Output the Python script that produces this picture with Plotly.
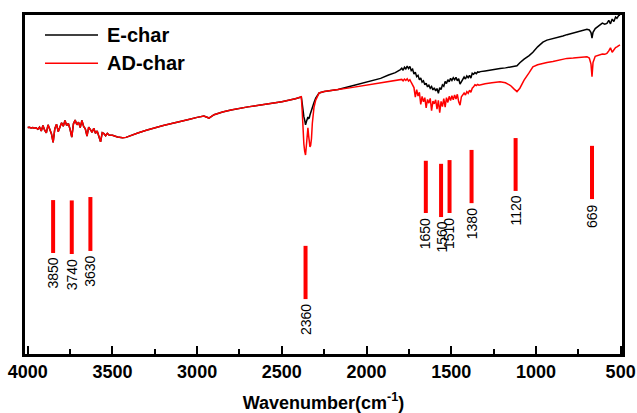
import plotly.graph_objects as go

# ---------------- data ----------------
# O-H / high wavenumber region: both spectra coincide here
wn_high = [4000, 3990, 3980, 3970, 3960, 3950, 3940, 3930, 3920, 3910,
           3900, 3890, 3880, 3870, 3860, 3850, 3840, 3830, 3820, 3810,
           3800, 3790, 3780, 3770, 3760, 3750, 3740, 3730, 3720, 3710,
           3700, 3690, 3680, 3670, 3660, 3650, 3640, 3630, 3620, 3610,
           3600, 3590, 3580, 3570, 3560, 3550, 3540, 3530, 3520,
           3500, 3470, 3440, 3420, 3400, 3350, 3300, 3250, 3200, 3150,
           3100, 3050, 3000, 2960, 2930, 2900, 2850, 2800, 2700, 2600,
           2500, 2420]
t_high = [66.8, 66.9, 66.7, 66.8, 66.6, 66.7, 66.3, 66.9, 65.8, 67.4,
          66.0, 65.2, 67.6, 66.1, 65.0, 62.4, 66.5, 67.8, 65.6, 66.9,
          68.2, 67.2, 68.9, 67.4, 68.0, 66.3, 64.0, 67.9, 69.0, 67.6,
          68.4, 66.8, 68.9, 67.1, 66.4, 64.3, 66.9, 66.2, 65.4, 66.6,
          65.1, 65.8, 64.5, 62.6, 65.3, 65.0, 64.4, 65.1, 64.6,
          64.5, 64.0, 63.8, 63.9, 64.3, 65.2, 66.0, 66.8, 67.4, 68.0,
          68.5, 69.2, 69.8, 70.2, 69.6, 70.6, 71.4, 72.0, 72.9, 73.6,
          74.4, 75.3]

# CO2 doublet region
wn_co2 = [2393, 2385, 2380, 2375, 2370, 2365, 2360, 2355, 2350, 2346,
          2342, 2338, 2334, 2330, 2325, 2320, 2316, 2310, 2300, 2290, 2280]
e_co2 = [75.6, 75.8, 74.0, 71.4, 70.0, 69.0, 67.6, 68.5, 69.5, 69.9,
         69.5, 69.6, 70.5, 71.2, 72.0, 72.8, 73.3, 74.2, 75.5, 76.3, 77.0]
ad_co2 = [75.6, 75.9, 72.0, 64.5, 62.0, 59.8, 58.7, 61.5, 65.5, 66.7,
          64.5, 62.0, 61.1, 61.5, 63.5, 68.0, 70.5, 72.8, 74.9, 76.2, 77.0]

# 2250-1830 cm-1
wn_mid = [2250, 2214, 2168, 2100, 2050, 2000, 1950, 1917, 1870, 1830]
e_mid = [77.4, 77.6, 78.0, 78.9, 79.6, 80.3, 80.9, 81.3, 82.3, 83.0]
ad_mid = [77.4, 77.6, 78.0, 78.5, 78.9, 79.3, 79.7, 79.9, 80.3, 80.6]

# 1800-1336 cm-1 (noisy band region)
wn_fp = [1800, 1792, 1784, 1776, 1768, 1760, 1752, 1744, 1736, 1728,
         1720, 1712, 1704, 1696, 1688, 1680, 1672, 1664, 1656, 1648,
         1640, 1632, 1624, 1616, 1608, 1600, 1592, 1584, 1576, 1568,
         1560, 1552, 1544, 1536, 1528, 1520, 1512, 1504, 1496, 1488,
         1480, 1472, 1464, 1456, 1448, 1440, 1432, 1424, 1416, 1408,
         1400, 1392, 1384, 1376, 1368, 1360, 1352, 1344, 1336]
e_fp = [83.9, 84.3, 83.7, 84.6, 84.1, 84.9, 84.2, 84.8, 83.6, 84.0,
        82.6, 83.1, 81.8, 82.2, 80.9, 81.4, 80.2, 80.6, 79.4, 79.9,
        78.8, 79.3, 78.4, 78.9, 77.9, 78.5, 77.6, 78.3, 76.9, 78.6,
        78.0, 79.4, 79.0, 80.4, 79.8, 80.9, 80.3, 81.3, 80.7, 81.5,
        80.9, 81.6, 80.6, 81.2, 79.6, 80.4, 80.8, 81.7, 81.1, 82.0,
        81.5, 82.2, 81.4, 82.8, 82.5, 83.0, 82.7, 83.2, 83.1]
ad_fp = [80.8, 81.0, 80.6, 81.1, 80.7, 81.2, 80.5, 80.9, 80.1, 79.4,
         78.6, 75.8, 78.0, 76.1, 77.2, 73.6, 76.0, 74.4, 75.6, 72.6,
         75.1, 74.0, 75.4, 71.8, 74.6, 73.8, 75.0, 72.2, 74.8, 71.2,
         74.5, 73.0, 75.3, 72.8, 75.6, 74.2, 76.0, 74.8, 76.2, 75.0,
         76.4, 75.2, 76.6, 74.4, 73.4, 75.9, 76.3, 77.0, 76.4, 77.4,
         76.9, 77.8, 77.2, 78.4, 78.8, 79.4, 79.2, 79.5, 79.3]

# 1328-504 cm-1
wn_low = [1328, 1300, 1260, 1212, 1180, 1150, 1130, 1112, 1095, 1070,
          1040, 1018, 990, 959, 935, 900, 870, 841, 817, 780,
          750, 720, 699, 685, 675, 669, 663, 650, 636, 622,
          608, 594, 581, 570, 560, 550, 540, 530, 522, 512, 504]
e_low = [83.3, 83.5, 83.9, 84.2, 84.4, 84.7, 84.8, 85.0, 85.9, 87.0,
         88.0, 89.0, 90.6, 92.0, 92.6, 93.0, 93.4, 93.8, 94.2, 94.7,
         95.1, 95.6, 95.8, 95.6, 94.8, 93.2, 94.9, 96.0, 96.5, 96.9,
         97.6, 97.3, 97.5, 98.4, 97.4, 98.8, 98.1, 99.4, 99.0, 99.8, 100.0]
ad_low = [79.4, 79.7, 80.0, 80.3, 80.0, 79.2, 78.2, 77.4, 78.4, 80.8,
          83.0, 84.7, 85.3, 85.8, 86.0, 86.3, 86.6, 86.9, 87.2, 87.3,
          87.5, 87.6, 87.7, 87.3, 85.5, 81.8, 86.0, 87.8, 88.0, 88.2,
          88.5, 88.4, 88.7, 89.4, 90.3, 89.0, 89.8, 90.4, 90.6, 90.9, 91.2]

wavenumber = wn_high + wn_co2 + wn_mid + wn_fp + wn_low
e_char = t_high + e_co2 + e_mid + e_fp + e_low
ad_char = t_high + ad_co2 + ad_mid + ad_fp + ad_low

# assigned band positions (red marker bars)
peak_wavenumbers = [3850, 3740, 3630, 2360, 1650, 1560, 1510, 1380, 1120, 669]
peak_labels = [str(p) for p in peak_wavenumbers]
peak_top = [45.4, 45.3, 46.3, 31.9, 57.0, 56.1, 57.2, 60.2, 63.7, 61.4]
peak_bottom = [29.8, 29.5, 30.4, 16.2, 41.6, 40.4, 41.6, 44.5, 48.1, 45.7]

x_ticks = [4000, 3500, 3000, 2500, 2000, 1500, 1000, 500]
series_names = ["E-char", "AD-char"]
series_colors = ["#000000", "#ff0000"]

# ---------------- figure ----------------
FONT = "Liberation Sans, Arial, sans-serif"
fig = go.Figure()

fig.add_trace(go.Scatter(x=wavenumber, y=e_char, mode="lines", name=series_names[0],
                         line=dict(color=series_colors[0], width=1.5), showlegend=False))
fig.add_trace(go.Scatter(x=wavenumber, y=ad_char, mode="lines", name=series_names[1],
                         line=dict(color=series_colors[1], width=1.5), showlegend=False))

bar_x, bar_y = [], []
for w, lo, hi in zip(peak_wavenumbers, peak_bottom, peak_top):
    bar_x += [w, w, None]
    bar_y += [lo, hi, None]
fig.add_trace(go.Scatter(x=bar_x, y=bar_y, mode="lines", showlegend=False,
                         line=dict(color="#ff0000", width=4), hoverinfo="skip"))

for w, lo, lab in zip(peak_wavenumbers, peak_bottom, peak_labels):
    fig.add_annotation(x=w, y=lo, text=lab, textangle=-90, showarrow=False,
                       xanchor="center", yanchor="top", yshift=-3,
                       font=dict(family=FONT, size=14, color="black"))

# legend drawn by hand (long line samples as in the reference)
leg_y = [0.941, 0.8575]
for name, col, yy in zip(series_names, series_colors, leg_y):
    fig.add_shape(type="line", xref="paper", yref="paper", x0=0.0335, x1=0.1223,
                  y0=yy, y1=yy, line=dict(color=col, width=1.5))
    fig.add_annotation(xref="paper", yref="paper", x=0.134, y=yy, text=name,
                       showarrow=False, xanchor="left", yanchor="middle",
                       font=dict(family=FONT, size=20, color="black", weight="bold"))

fig.update_layout(
    width=637, height=413,
    margin=dict(l=25, r=15, t=15, b=59, autoexpand=False),
    paper_bgcolor="white", plot_bgcolor="white",
    font=dict(family=FONT, color="black"),
    xaxis=dict(range=[4016, 492], tickvals=x_ticks, ticks="inside", ticklen=8,
               tickwidth=2, tickcolor="black", showline=True, linewidth=2.5,
               linecolor="black", mirror=True, showgrid=False, zeroline=False,
               automargin=False,
               minor=dict(ticks="inside", ticklen=5, tickwidth=2, dtick=250,
                          tick0=500, tickcolor="black", showgrid=False),
               tickfont=dict(family=FONT, size=18, color="black", weight="bold"),
               title=dict(text="Wavenumber(cm<sup>-1</sup>)", standoff=16,
                          font=dict(family=FONT, size=18, color="black", weight="bold"))),
    yaxis=dict(range=[0, 100], showticklabels=False, ticks="", showline=True,
               linewidth=2.5, linecolor="black", mirror=True, showgrid=False,
               zeroline=False, automargin=False),
)

fig.write_html("out.html", config={"displayModeBar": False},
               post_script="document.body.style.margin='0px';")
